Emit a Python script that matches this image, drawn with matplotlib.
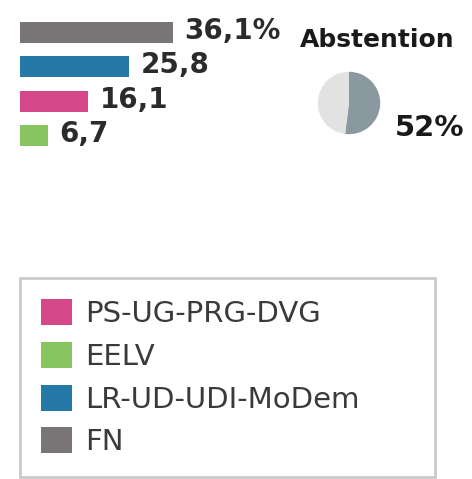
import matplotlib.pyplot as plt
from matplotlib.patches import Patch

W, H = 472, 479

# Ergebnisse (%)
partis = ['FN', 'LR-UD-UDI-MoDem', 'PS-UG-PRG-DVG', 'EELV']
scores = [36.1, 25.8, 16.1, 6.7]
labels = ['36,1%', '25,8', '16,1', '6,7']
couleurs = ['#7a7677', '#2479a6', '#d4488a', '#88c460']

abstention = 52
abstention_label = '52%'

legende_ordre = ['PS-UG-PRG-DVG', 'EELV', 'LR-UD-UDI-MoDem', 'FN']

fig = plt.figure(figsize=(W / 100, H / 100), dpi=100)

def px(x0, y0, w, h):
    # pixel box (top-left origin) -> figure fraction
    return [x0 / W, 1 - (y0 + h) / H, w / W, h / H]

# barres
ax = fig.add_axes(px(20, 15, 452, 138))
ypos = list(range(len(partis)))
ax.barh(ypos, scores, height=0.61, color=couleurs)
for y, v, t in zip(ypos, scores, labels):
    ax.annotate(t, (v, y), xytext=(8, 1), textcoords='offset points',
                ha='left', va='center', fontsize=20, fontweight='bold', color='#2b2b2b')
ax.set_xlim(0, 452 / 4.24)
ax.set_ylim(len(partis) - 0.5, -0.5)
ax.axis('off')

# abstention
fig.text(300 / W, 1 - 40 / H, 'Abstention', ha='left', va='center',
         fontsize=18, fontweight='bold', color='#1a1a1a')
axp = fig.add_axes(px(310, 64, 78, 78))
axp.pie([abstention, 100 - abstention], colors=['#8a989f', '#e2e2e2'],
        startangle=90, counterclock=False)
axp.set_aspect('equal')
fig.text(395 / W, 1 - 128 / H, abstention_label, ha='left', va='center',
         fontsize=21, fontweight='bold', color='#1a1a1a')

# légende
coul = dict(zip(partis, couleurs))
handles = [Patch(facecolor=coul[p], label=p) for p in legende_ordre]
leg = fig.legend(handles=handles, loc='upper left',
                 bbox_to_anchor=(20 / W, 0, 415 / W, 1 - 278 / H), mode='expand',
                 borderaxespad=0, fontsize=21, handlelength=1.05, handleheight=1.0,
                 handletextpad=0.45, labelspacing=0.47, borderpad=0.72,
                 fancybox=False, edgecolor='#bdbdbd', labelcolor='#3a3a3a')
leg.get_frame().set_linewidth(2)

fig.savefig('out.png', dpi=100)
